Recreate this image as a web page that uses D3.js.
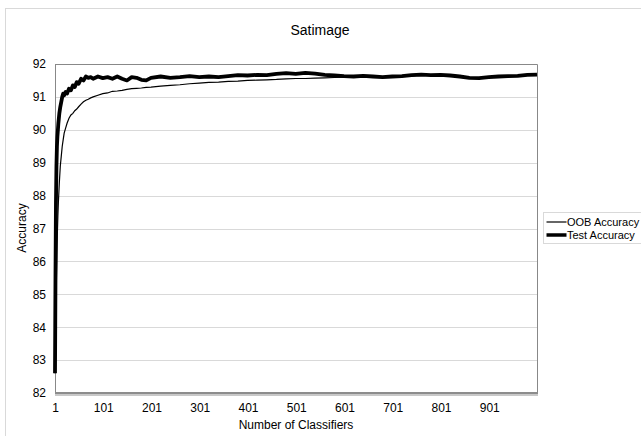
<!DOCTYPE html>
<html lang="en">
<head>
    <meta charset="UTF-8">
    <title>satimage</title>
    <script src="https://cdn.jsdelivr.net/npm/d3@7/dist/d3.min.js"></script>
    <style>
        body { margin: 0; background: #fff; }
        text { font-family: "Liberation Sans", Arial, sans-serif; fill: #000; }
    </style>
</head>
<body>
    <svg class="chart"></svg>
</body>
<script>
    var classifiers = [1, 2, 3, 4, 5, 6, 7, 8, 10, 12, 14, 16, 18, 20, 23, 26, 30, 34, 38, 42, 46, 50,
        55, 60, 65, 70, 75, 80, 90, 100, 110, 120, 130, 140, 150, 160, 170, 180, 190, 200,
        220, 240, 260, 280, 300, 320, 340, 360, 380, 400, 420, 440, 460, 480, 500, 520, 540,
        560, 580, 600, 620, 640, 660, 680, 700, 720, 740, 760, 780, 800, 820, 840, 860, 880,
        900, 920, 940, 960, 980, 1000];

    var testAccuracy = [82.6, 85.5, 87.8, 88.9, 89.5, 89.8, 90.0, 90.2, 90.5, 90.7, 90.85, 91.0, 91.1, 91.05,
        91.15, 91.1, 91.25, 91.2, 91.35, 91.3, 91.45, 91.4, 91.55, 91.5, 91.62, 91.58, 91.6, 91.55,
        91.62, 91.57, 91.6, 91.55, 91.62, 91.55, 91.5, 91.6, 91.58, 91.52, 91.5, 91.58, 91.62, 91.58,
        91.6, 91.63, 91.6, 91.62, 91.6, 91.63, 91.66, 91.65, 91.67, 91.66, 91.7, 91.72, 91.7, 91.73,
        91.71, 91.67, 91.65, 91.63, 91.62, 91.64, 91.62, 91.6, 91.62, 91.63, 91.66, 91.68, 91.66,
        91.67, 91.65, 91.62, 91.58, 91.57, 91.6, 91.62, 91.63, 91.64, 91.67, 91.68];

    var oobAccuracy = [82.6, 83.5, 84.6, 85.5, 86.3, 86.9, 87.4, 87.8, 88.4, 88.9, 89.2, 89.5, 89.7, 89.9,
        90.05, 90.2, 90.35, 90.45, 90.5, 90.58, 90.63, 90.7, 90.78, 90.85, 90.9, 90.93, 90.97, 91.0,
        91.05, 91.1, 91.12, 91.17, 91.18, 91.2, 91.23, 91.25, 91.26, 91.27, 91.29, 91.3, 91.33, 91.35,
        91.37, 91.4, 91.42, 91.44, 91.45, 91.47, 91.48, 91.5, 91.51, 91.52, 91.53, 91.55, 91.56, 91.56,
        91.57, 91.58, 91.59, 91.6, 91.6, 91.61, 91.6, 91.6, 91.61, 91.62, 91.64, 91.65, 91.65, 91.66,
        91.65, 91.62, 91.59, 91.57, 91.59, 91.61, 91.62, 91.63, 91.65, 91.66];

    var xTicks = [1, 101, 201, 301, 401, 501, 601, 701, 801, 901];
    var yTicks = [82, 83, 84, 85, 86, 87, 88, 89, 90, 91, 92];

    var width = 641, height = 436;
    var plot = { left: 55, right: 537, top: 64, bottom: 393 };

    var svg = d3.select('.chart')
        .attr('width', width)
        .attr('height', height);

    // outer chart frame (runs off the right and bottom edge)
    svg.append('rect')
        .attr('x', 5.5).attr('y', 8.5)
        .attr('width', 700).attr('height', 500)
        .attr('fill', '#fff')
        .attr('stroke', '#d9d9d9');

    var x = d3.scaleLinear()
        .domain([1, 1000])
        .range([plot.left, plot.right]);

    var y = d3.scaleLinear()
        .domain([82, 92])
        .range([plot.bottom, plot.top]);

    // gridlines
    svg.append('g')
        .selectAll('line')
        .data(yTicks.slice(1))
        .enter()
        .append('line')
        .attr('x1', plot.left).attr('x2', plot.right)
        .attr('y1', function (d) { return Math.round(y(d)) + 0.5; })
        .attr('y2', function (d) { return Math.round(y(d)) + 0.5; })
        .attr('stroke', '#d9d9d9');

    // plot border
    svg.append('path')
        .attr('d', 'M' + (plot.left + 0.5) + ',' + (plot.top + 0.5) + 'H' + (plot.right + 0.5) + 'V' + plot.bottom)
        .attr('fill', 'none')
        .attr('stroke', '#888');
    svg.append('line')
        .attr('x1', plot.left + 0.5).attr('x2', plot.left + 0.5)
        .attr('y1', plot.top).attr('y2', plot.bottom)
        .attr('stroke', '#888');
    // bottom axis line with shadow
    svg.append('line')
        .attr('x1', plot.left).attr('x2', plot.right + 1)
        .attr('y1', plot.bottom + 2).attr('y2', plot.bottom + 2)
        .attr('stroke', '#c8c8c8').attr('stroke-width', 2);
    svg.append('line')
        .attr('x1', plot.left).attr('x2', plot.right + 1)
        .attr('y1', plot.bottom).attr('y2', plot.bottom)
        .attr('stroke', '#8c8c8c').attr('stroke-width', 2);

    // y axis labels
    var yAxis = d3.axisLeft(y).tickValues(yTicks).tickSize(0).tickPadding(9);
    var gy = svg.append('g')
        .attr('transform', 'translate(' + plot.left + ',0)')
        .call(yAxis);
    gy.select('.domain').remove();
    gy.selectAll('text')
        .style('font-family', '"Liberation Sans", Arial, sans-serif')
        .style('font-size', '12px');

    // x axis labels
    var xAxis = d3.axisBottom(x).tickValues(xTicks).tickFormat(d3.format('d')).tickSize(0).tickPadding(10);
    var gx = svg.append('g')
        .attr('transform', 'translate(0,' + plot.bottom + ')')
        .call(xAxis);
    gx.select('.domain').remove();
    gx.selectAll('text')
        .style('font-family', '"Liberation Sans", Arial, sans-serif')
        .style('font-size', '12px');

    // lines
    var line = d3.line()
        .x(function (d) { return x(d[0]); })
        .y(function (d) { return y(d[1]); });

    svg.append('path')
        .datum(d3.zip(classifiers, oobAccuracy))
        .attr('d', line)
        .attr('fill', 'none')
        .attr('stroke', '#000')
        .attr('stroke-width', 1.2);

    svg.append('path')
        .datum(d3.zip(classifiers, testAccuracy))
        .attr('d', line)
        .attr('fill', 'none')
        .attr('stroke', '#000')
        .attr('stroke-width', 3.8)
        .attr('stroke-linejoin', 'round');

    // titles
    svg.append('text')
        .attr('x', 320).attr('y', 35)
        .attr('text-anchor', 'middle')
        .style('font-size', '14px')
        .text('Satimage');

    svg.append('text')
        .attr('x', 296).attr('y', 429)
        .attr('text-anchor', 'middle')
        .style('font-size', '12px')
        .text('Number of Classifiers');

    svg.append('text')
        .attr('transform', 'translate(26,228) rotate(-90)')
        .attr('text-anchor', 'middle')
        .style('font-size', '12px')
        .text('Accuracy');

    // legend
    var legend = svg.append('g').attr('transform', 'translate(543.5,212.5)');
    legend.append('rect')
        .attr('width', 110).attr('height', 31)
        .attr('fill', '#fff')
        .attr('stroke', '#d9d9d9');
    var items = [['OOB Accuracy', 1.2], ['Test Accuracy', 3.5]];
    var li = legend.selectAll('g.item')
        .data(items)
        .enter()
        .append('g')
        .attr('class', 'item')
        .attr('transform', function (d, i) { return 'translate(0,' + (9.5 + i * 13) + ')'; });
    li.append('line')
        .attr('x1', 3).attr('x2', 23)
        .attr('stroke', '#000')
        .attr('stroke-width', function (d) { return d[1]; });
    li.append('text')
        .attr('x', 23.5).attr('dy', '0.35em')
        .style('font-size', '11px')
        .text(function (d) { return d[0]; });
</script>
</html>
